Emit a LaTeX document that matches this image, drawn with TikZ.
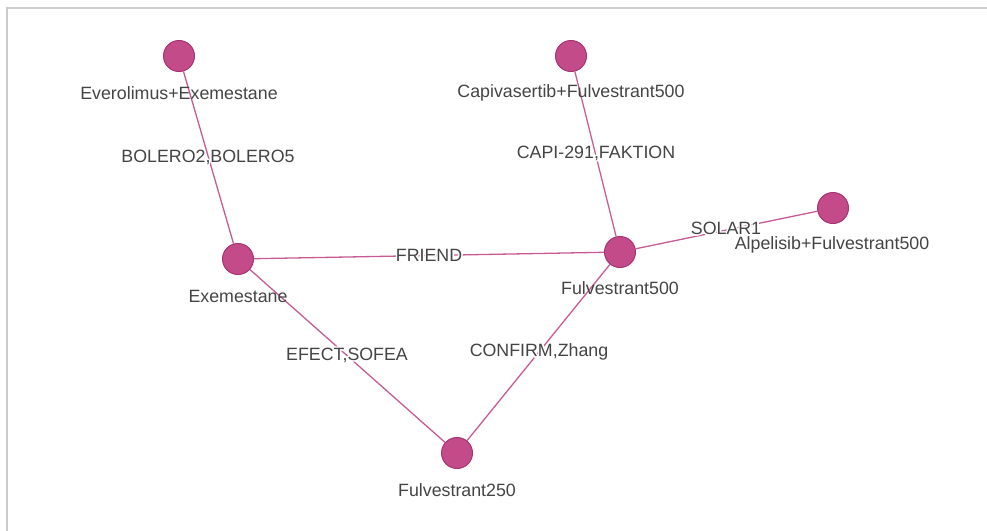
\documentclass[tikz,border=0pt]{standalone}
\usepackage{fontspec}
\setmainfont{Liberation Sans}
\definecolor{nodefill}{HTML}{C44B8A}
\definecolor{nodeline}{HTML}{A8346F}
\definecolor{edgecol}{HTML}{C85A94}
\definecolor{txt}{HTML}{444444}
\definecolor{framecol}{HTML}{CCCCCC}
\newcommand{\halotext}[3]{%
  \node[elabel] at (#1) {\special{pdf:code 1 Tr 3 w 1 1 1 RG 1 j}#3\special{pdf:code 0 Tr}};
  \node[elabel] (#2) at (#1) {#3};}
\begin{document}
\begin{tikzpicture}[x=1pt,y=-1pt,
  drug/.style={circle, draw=nodeline, fill=nodefill, line width=1pt, minimum size=31pt, inner sep=0pt},
  nlabel/.style={text=txt, font=\fontsize{17.8}{20}\selectfont, inner sep=0pt},
  elabel/.style={text=txt, font=\fontsize{17.8}{20}\selectfont, inner sep=0pt},
  edge/.style={draw=edgecol, line width=1.3pt}]
\useasboundingbox (0,0) rectangle (987,530);
\draw[framecol, line width=2pt] (7,531) -- (7,8) -- (988,8);
% nodes
\node[drug] (eve) at (179,56) {};
\node[drug] (capi) at (571,56) {};
\node[drug] (exe) at (238,259) {};
\node[drug] (f500) at (620,252) {};
\node[drug] (alp) at (833,208) {};
\node[drug] (f250) at (457,453) {};
% edges
\draw[edge] (eve) -- (exe);
\draw[edge] (capi) -- (f500);
\draw[edge] (exe) -- (f500);
\draw[edge] (f500) -- (alp);
\draw[edge] (exe) -- (f250);
\draw[edge] (f500) -- (f250);
% node labels
\node[nlabel] (leve) at (179,93) {Everolimus+Exemestane};
\node[nlabel] (lcapi) at (571,93) {Capivasertib+Fulvestrant500};
\node[nlabel] (lexe) at (238,296) {Exemestane};
\node[nlabel] (lf500) at (620,288) {Fulvestrant500};
\node[nlabel] (lalp) at (832,245) {Alpelisib+Fulvestrant500};
\node[nlabel] (lf250) at (457,490) {Fulvestrant250};
% edge labels
\coordinate (c1) at (208,157);
\coordinate (c2) at (596,153);
\coordinate (c3) at (429,255);
\coordinate (c4) at (726,228);
\coordinate (c5) at (347,355);
\coordinate (c6) at (539,352);
\halotext{c1}{e1}{BOLERO2,BOLERO5}
\halotext{c2}{e2}{CAPI-291,FAKTION}
\halotext{c3}{e3}{FRIEND}
\halotext{c4}{e4}{SOLAR1}
\halotext{c5}{e5}{EFECT,SOFEA}
\halotext{c6}{e6}{CONFIRM,Zhang}
\end{tikzpicture}
\end{document}
